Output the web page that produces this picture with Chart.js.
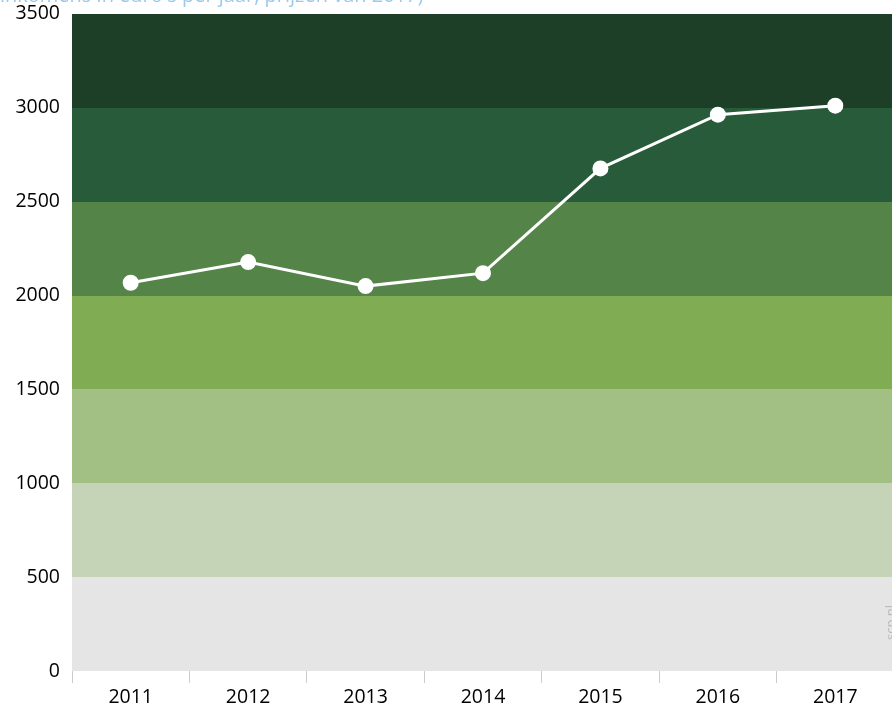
<!DOCTYPE html>
<html>
<head>
<meta charset="utf-8">
<script src="https://cdn.jsdelivr.net/npm/chart.js@4"></script>
<style>
  html, body { margin: 0; padding: 0; background: #fff; overflow: hidden; }
  #wrap { position: relative; width: 892px; height: 707px; overflow: hidden; }
  #chartBox { position: absolute; left: 0; top: -3px; width: 902px; height: 710px; }
  #title {
    position: absolute; left: 0; top: -19px; white-space: nowrap;
    font-family: "Open Sans", sans-serif; font-size: 20px; color: #9cc9ec;
  }
  #source {
    position: absolute; left: 881px; top: 640px; transform: rotate(-90deg);
    transform-origin: left top; font-family: "Open Sans", sans-serif;
    font-size: 13px; color: #b9b9b9; white-space: nowrap;
  }
</style>
</head>
<body>
<div id="wrap">
  <div id="chartBox"><canvas id="incomeChart"></canvas></div>
  <div id="title">inkomens in euro's per jaar, prijzen van 2017)</div>
  <div id="source">scp.nl</div>
</div>
<script>
const years = ["2011", "2012", "2013", "2014", "2015", "2016", "2017"];
const income = [2068, 2178, 2050, 2119, 2677, 2963, 3011];

// background bands, from 0 upwards
const bandEdges = [0, 500, 1000, 1500, 2000, 2500, 3000, 3500];
const bandColors = ["#e5e5e5", "#c5d3b6", "#a2c083", "#80ac54", "#548448", "#285b3a", "#1d3f27"];

const bands = {
  id: "bands",
  beforeDatasetsDraw(chart) {
    const { ctx, chartArea, scales } = chart;
    ctx.save();
    for (let i = 0; i < bandColors.length; i++) {
      const y1 = scales.y.getPixelForValue(bandEdges[i + 1]);
      const y0 = scales.y.getPixelForValue(bandEdges[i]);
      ctx.fillStyle = bandColors[i];
      ctx.fillRect(chartArea.left, Math.round(y1), chartArea.right - chartArea.left, Math.round(y0) - Math.round(y1));
    }
    ctx.restore();
  },
};

const font = { family: "'Open Sans', sans-serif", size: 19.5 };

const config = {
  type: "line",
  data: {
    labels: years,
    datasets: [
      {
        data: income,
        borderColor: "#ffffff",
        borderWidth: 3,
        pointRadius: 8,
        pointHoverRadius: 8,
        pointBackgroundColor: "#ffffff",
        pointBorderWidth: 0,
        tension: 0,
        fill: false,
      },
    ],
  },
  options: {
    responsive: true,
    maintainAspectRatio: false,
    animation: false,
    layout: { padding: { top: 8, right: 0, left: 0, bottom: 0 } },
    plugins: { legend: { display: false }, tooltip: { enabled: false } },
    scales: {
      x: {
        offset: true,
        border: { display: false },
        grid: { offset: true, drawOnChartArea: false, drawTicks: true, tickLength: 12, color: "#cccccc" },
        ticks: { color: "#000", font: font, padding: 3 },
        afterFit(scale) { scale.height = 36; },
      },
      y: {
        min: 0,
        max: 3500,
        border: { display: false },
        grid: { display: false, drawTicks: false },
        ticks: {
          stepSize: 500,
          color: "#000",
          font: { family: "'Open Sans', sans-serif", size: 19.5, lineHeight: 0.5 },
          padding: 12,
          callback: (v) => String(v),
        },
        afterFit(scale) { scale.width = 72; },
      },
    },
  },
  plugins: [bands],
};

var income_ctx = document.getElementById("incomeChart").getContext("2d");
var chart = new Chart(income_ctx, config);
</script>
</body>
</html>
